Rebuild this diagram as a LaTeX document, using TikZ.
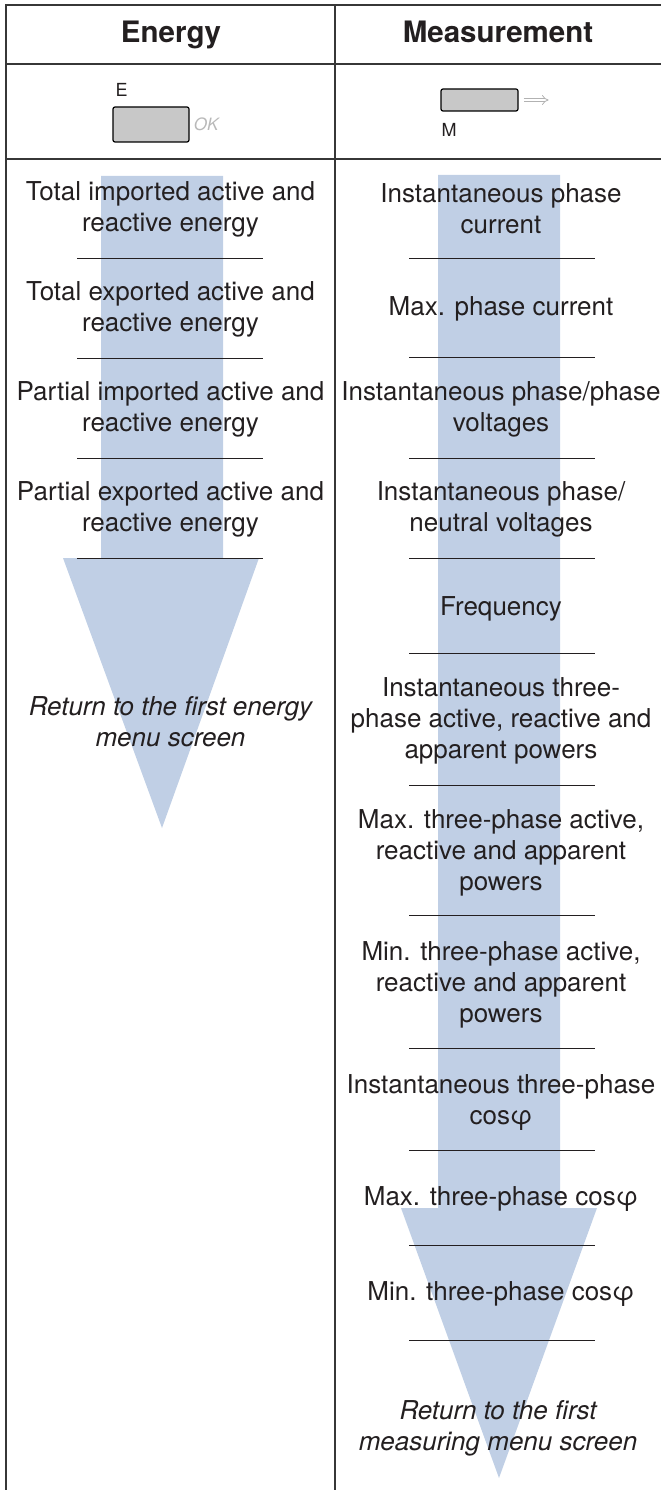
\documentclass[tikz,border=0pt]{standalone}
\usepackage{fontspec}
\setmainfont{TeX Gyre Heros}
\usetikzlibrary{arrows.meta,positioning}

\definecolor{inkgray}{RGB}{35,31,32}
\definecolor{rulegray}{RGB}{55,55,55}
\definecolor{keygray}{RGB}{200,200,200}
\definecolor{flowblue}{RGB}{192,207,229}

\tikzset{
  item/.style={align=center,text=inkgray,inner sep=0pt,font=\fontsize{26}{31}\selectfont},
  itemit/.style={item,font=\fontsize{26}{31}\selectfont\itshape},
  head/.style={text=inkgray,anchor=base,inner sep=0pt,font=\fontsize{29.5}{34}\selectfont\bfseries},
  key/.style={draw=black,line width=1.2pt,fill=keygray,rounded corners=2pt},
  keylbl/.style={text=inkgray,inner sep=0pt,font=\fontsize{18}{20}\selectfont},
  tablerule/.style={rulegray,line width=1.3pt},
  sepline/.style={inkgray,line width=1pt},
  flow/.style={fill=flowblue}
}

\begin{document}
\begin{tikzpicture}[x=1pt,y=-1pt]
\useasboundingbox (0,0) rectangle (661,1490);

% block arrows behind the text
\fill[flow] (101,176) -- (223,176) -- (223,558) -- (259,558) -- (162,828) -- (63,558) -- (101,558) -- cycle;
\fill[flow] (438,175) -- (560,175) -- (560,1208) -- (597,1208) -- (499,1478) -- (401,1208) -- (438,1208) -- cycle;

% table
\draw[tablerule] (6,1490) -- (6,5) -- (661,5);
\draw[tablerule] (335,5) -- (335,1490);
\draw[tablerule] (6,64) -- (661,64);
\draw[tablerule] (6,159) -- (661,159);

\node[head] (hdrE) at (171,43) {Energy};
\node[head] (hdrM) at (498,43) {Measurement};

% keys
\node[key,minimum width=76pt,minimum height=35pt] (keyE) at (151,124.5) {};
\node[keylbl,anchor=base west] (labE) at ([xshift=3pt,yshift=10pt]keyE.north west) {E};
\node[keylbl,text=gray!55,font=\fontsize{17}{20}\selectfont\itshape,right=4pt of keyE] (ok) {OK};
\node[key,minimum width=77pt,minimum height=22pt] (keyM) at (479.5,100) {};
\node[keylbl,anchor=base west] (labM) at ([xshift=1pt,yshift=-25pt]keyM.south west) {M};
\draw[gray!60,line width=0.8pt,double=white,double distance=2.6pt,-{Implies}] ([xshift=5pt]keyM.east) -- ([xshift=30pt]keyM.east);

% energy menu
\node[item] (e1) at (170.5,209) {Total imported active and\\reactive energy};
\node[item] (e2) at (170.5,309) {Total exported active and\\reactive energy};
\node[item] (e3) at (170.5,409) {Partial imported active and\\reactive energy};
\node[item] (e4) at (170.5,509) {Partial exported active and\\reactive energy};
\node[itemit] (e5) at (170.5,722) {Return to the first energy\\menu screen};
\foreach \y in {258,358,458,558}
  \draw[sepline] (77,\y) -- (263,\y);

% measurement menu
\node[item] (m1) at (501,208.5) {Instantaneous phase\\current};
\node[item] (m2) at (501,309) {Max. phase current};
\node[item] (m3) at (501,409) {Instantaneous phase/phase\\voltages};
\node[item] (m4) at (501,509) {Instantaneous phase/\\neutral voltages};
\node[item] (m5) at (501,609) {Frequency};
\node[item] (m6) at (501,721) {Instantaneous three-\\phase active, reactive and\\apparent powers};
\node[item] (m7) at (501,853) {Max. three-phase active,\\reactive and apparent\\powers};
\node[item] (m8) at (501,985) {Min. three-phase active,\\reactive and apparent\\powers};
\node[item] (m9) at (501,1102) {Instantaneous three-phase\\cosφ};
\node[item] (m10) at (501,1199) {Max. three-phase cosφ};
\node[item] (m11) at (501,1294) {Min. three-phase cosφ};
\node[itemit] (m12) at (498,1428) {Return to the first\\measuring menu screen};
\foreach \y in {258,357,458,558,653,785,915,1048,1150,1245,1340}
  \draw[sepline] (409,\y) -- (595,\y);
\end{tikzpicture}
\end{document}
